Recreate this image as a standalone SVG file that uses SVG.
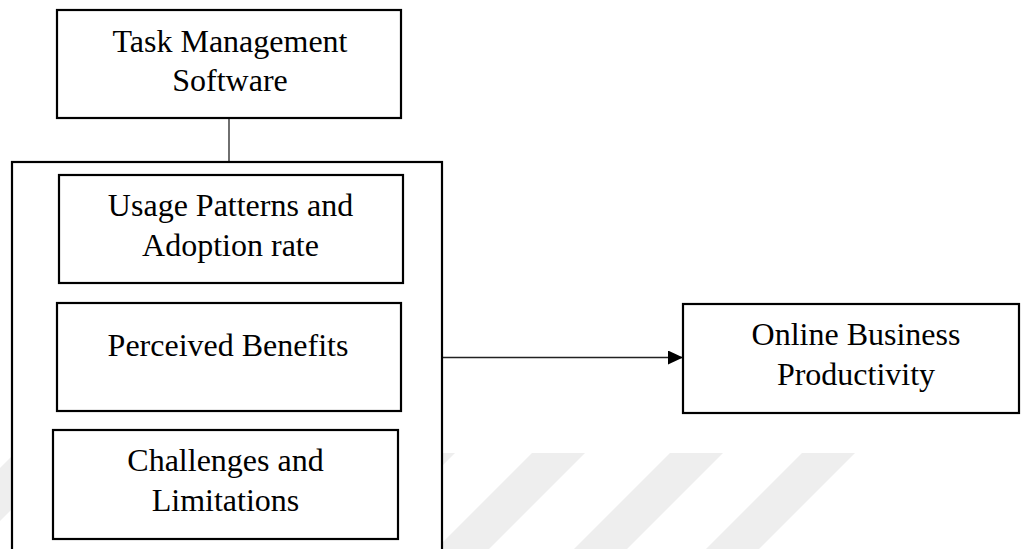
<svg xmlns="http://www.w3.org/2000/svg" width="1024" height="549" viewBox="0 0 1024 549">
<style>
.box{fill:#fff;stroke:#000;stroke-width:2.2}
.wm{fill:#eeeeee}
.lbl{font-family:"Liberation Serif","Times New Roman",serif;font-size:32px;fill:#000;text-anchor:middle}
.con{stroke:#222;stroke-width:1.3;fill:none}
</style>
<defs>
<marker id="arr" viewBox="0 0 15 14" refX="15" refY="7" markerWidth="15" markerHeight="14" markerUnits="userSpaceOnUse" orient="auto">
<path d="M0,0 L15,7 L0,14 Z" fill="#000"/>
</marker>
</defs>
<rect width="1024" height="549" fill="#fff"/>
<g id="watermark">
<polygon class="wm" points="15,453 68,453 -28,549 -81,549"/>
<polygon class="wm" points="400,453 455,453 359,549 304,549"/>
<polygon class="wm" points="532,453 585,453 489,549 436,549"/>
<polygon class="wm" points="670,453 723,453 627,549 574,549"/>
<polygon class="wm" points="802,453 855,453 759,549 706,549"/>
</g>
<g id="connectors">
<line class="con" x1="229" y1="118" x2="229" y2="162"/>
<line class="con" x1="442" y1="357.5" x2="683" y2="357.5" marker-end="url(#arr)"/>
</g>
<g id="task-management-software">
<rect class="box" x="57" y="10" width="344" height="108"/>
<text class="lbl" x="230" y="52">Task Management</text>
<text class="lbl" x="230" y="91">Software</text>
</g>
<g id="group-box">
<rect class="box" x="12" y="162" width="430" height="400"/>
</g>
<g id="usage-patterns">
<rect class="box" x="59" y="175" width="344" height="108"/>
<text class="lbl" x="230.5" y="216">Usage Patterns and</text>
<text class="lbl" x="230.5" y="256">Adoption rate</text>
</g>
<g id="perceived-benefits">
<rect class="box" x="57" y="303" width="344" height="108"/>
<text class="lbl" x="228" y="356">Perceived Benefits</text>
</g>
<g id="challenges">
<rect class="box" x="53" y="430" width="345" height="109"/>
<text class="lbl" x="225.5" y="471">Challenges and</text>
<text class="lbl" x="225.5" y="511">Limitations</text>
</g>
<g id="online-business-productivity">
<rect class="box" x="683" y="304" width="336" height="109"/>
<text class="lbl" x="856" y="345">Online Business</text>
<text class="lbl" x="856" y="385">Productivity</text>
</g>
</svg>
